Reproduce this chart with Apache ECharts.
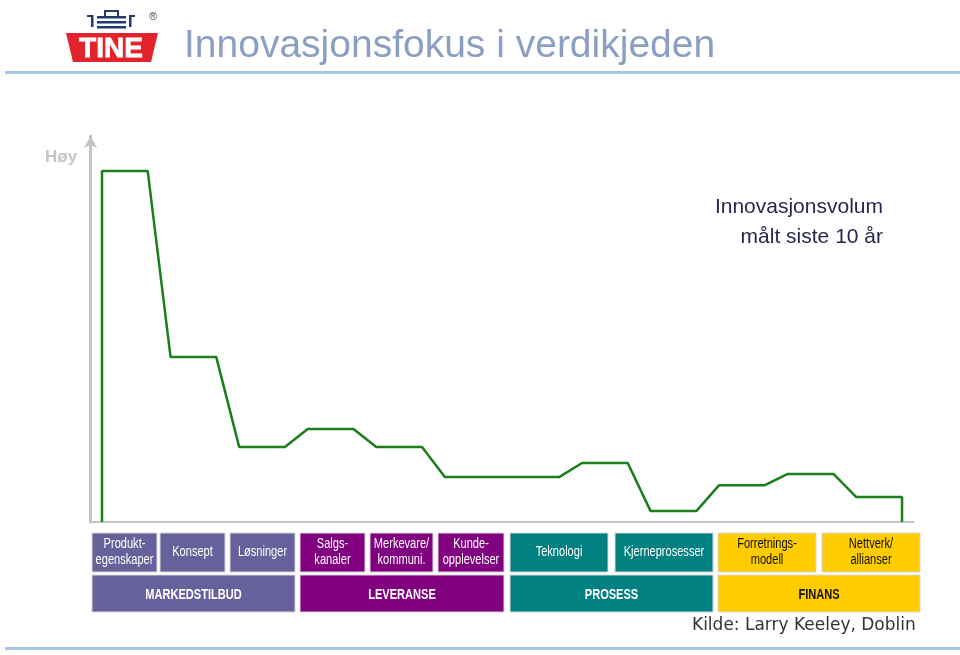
<!DOCTYPE html>
<html>
<head>
<meta charset="utf-8">
<script src="https://cdn.jsdelivr.net/npm/echarts@6/dist/echarts.min.js"></script>
<style>
html,body{margin:0;padding:0;background:#fff;}
#chart{width:960px;height:655px;}
</style>
</head>
<body>
<div id="chart"></div>
<script>
// ---- Data ----
var titleText = 'Innovasjonsfokus i verdikjeden';
var axisLabelTop = 'Høy';
var noteLines = ['Innovasjonsvolum', 'målt siste 10 år'];
// innovation volume per step (relative, 100 = highest)
var volumeValues = [100, 47, 21.4, 26.5, 21.4, 12.8, 12.8, 16.8, 3.1, 10.5, 13.7, 7.1];
var subCategories = ['Produkt-\negenskaper', 'Konsept', 'Løsninger', 'Salgs-\nkanaler', 'Merkevare/\nkommuni.', 'Kunde-\nopplevelser', 'Teknologi', 'Kjerneprosesser', 'Forretnings-\nmodell', 'Nettverk/\nallianser'];
var mainCategories = ['MARKEDSTILBUD', 'LEVERANSE', 'PROSESS', 'FINANS'];
var sourceText = 'Kilde: Larry Keeley, Doblin';

// ---- Layout / style (not data) ----
var groupColors = ['#66619b', '#800080', '#008080', '#ffcc00'];
var groupText = ['#ffffff', '#ffffff', '#ffffff', '#111111'];
var subGroup = [0, 0, 0, 1, 1, 1, 2, 2, 3, 3];
var subX = [[92,157],[160,225],[230,295],[300,365],[370,433],[438,504],[510,608],[615,713],[718,816],[822,920]];
var mainX = [[92,295],[300,504],[510,713],[718,920]];
var row1 = [533, 572], row2 = [575, 612];

// build step line: each step has a plateau 2 units wide, transitions 1 unit
var linePts = [[0, 0]];
volumeValues.forEach(function (v, i) {
  linePts.push([3 * i, v]);
  linePts.push([3 * i + 2, v]);
});
linePts.push([3 * (volumeValues.length - 1) + 2, 0]);

var font = "'Liberation Sans', Arial, sans-serif";
var graphics = [];

// title
graphics.push({type:'text', x:184, y:46, style:{text:titleText, font:"normal 39px " + font, fill:'#8a9fc2', textVerticalAlign:'middle'}});
graphics.push({type:'rect', shape:{x:5, y:71, width:955, height:3}, style:{fill:'#aac4e4'}});
graphics.push({type:'rect', shape:{x:5, y:647, width:955, height:3}, style:{fill:'#aac4e4'}});

// logo
graphics.push({type:'polygon', shape:{points:[[66,33],[158,33],[151,62],[73,62]]}, style:{fill:'#e3232b'}});
graphics.push({type:'text', x:111, y:49, style:{text:'TINE', font:"900 28px " + font, fill:'#ffffff', stroke:'#ffffff', lineWidth:0.8, textAlign:'center', textVerticalAlign:'middle'}});
var navy = '#1f3b70';
graphics.push({type:'rect', shape:{x:97, y:16, width:29, height:2.5}, style:{fill:navy}});
graphics.push({type:'rect', shape:{x:97, y:21, width:29, height:2.5}, style:{fill:navy}});
graphics.push({type:'rect', shape:{x:97, y:26, width:29, height:2.5}, style:{fill:navy}});
graphics.push({type:'rect', shape:{x:104, y:10, width:15, height:2, r:1}, style:{fill:navy}});
graphics.push({type:'rect', shape:{x:104, y:10, width:2, height:6}, style:{fill:navy}});
graphics.push({type:'rect', shape:{x:117, y:10, width:2, height:6}, style:{fill:navy}});
graphics.push({type:'rect', shape:{x:87, y:15, width:6, height:2}, style:{fill:navy}});
graphics.push({type:'rect', shape:{x:91, y:15, width:2.5, height:12}, style:{fill:navy}});
graphics.push({type:'rect', shape:{x:129, y:15, width:6, height:2}, style:{fill:navy}});
graphics.push({type:'rect', shape:{x:129, y:15, width:2.5, height:12}, style:{fill:navy}});
graphics.push({type:'text', x:153, y:17, style:{text:'®', font:"11px " + font, fill:'#444', textAlign:'center', textVerticalAlign:'middle'}});

// y axis label
graphics.push({type:'text', x:45, y:157, style:{text:axisLabelTop, font:"bold 17px " + font, fill:'#c4c4c4', textVerticalAlign:'middle'}});

// note
graphics.push({type:'text', x:883, y:207, style:{text:noteLines[0], font:"21px " + font, fill:'#27284e', textAlign:'right', textVerticalAlign:'middle'}});
graphics.push({type:'text', x:883, y:237, style:{text:noteLines[1], font:"21px " + font, fill:'#27284e', textAlign:'right', textVerticalAlign:'middle'}});

// sub-category boxes
subCategories.forEach(function (c, i) {
  var g = subGroup[i];
  var x0 = subX[i][0], x1 = subX[i][1];
  graphics.push({type:'rect', shape:{x:x0, y:row1[0], width:x1-x0, height:row1[1]-row1[0]}, style:{fill:groupColors[g], stroke:'#d8d8d8', lineWidth:1}});
  graphics.push({type:'text', x:(x0+x1)/2, y:(row1[0]+row1[1])/2, scaleX:0.79, style:{text:c, font:"14px " + font, fill:groupText[g], textAlign:'center', textVerticalAlign:'middle', lineHeight:16}});
});
mainCategories.forEach(function (c, i) {
  var x0 = mainX[i][0], x1 = mainX[i][1];
  graphics.push({type:'rect', shape:{x:x0, y:row2[0], width:x1-x0, height:row2[1]-row2[0]}, style:{fill:groupColors[i], stroke:'#d8d8d8', lineWidth:1}});
  graphics.push({type:'text', x:(x0+x1)/2, y:(row2[0]+row2[1])/2 + 2, scaleX:0.79, style:{text:c, font:"bold 14px " + font, fill:groupText[i], textAlign:'center', textVerticalAlign:'middle'}});
});

// source
graphics.push({type:'text', x:692, y:626, style:{text:sourceText, font:"17px 'DejaVu Sans', sans-serif", fill:'#333333', textVerticalAlign:'middle'}});

var chart = echarts.init(document.getElementById('chart'), null, {renderer:'canvas'});
chart.setOption({
  animation:false,
  backgroundColor:'#ffffff',
  grid:{left:90.57, width:822.9, top:136, height:386},
  xAxis:{type:'value', min:-0.5, max:35.5,
    axisLine:{show:true, onZero:false, lineStyle:{color:'#c4c4c4', width:2}},
    axisTick:{show:false}, axisLabel:{show:false}, splitLine:{show:false}},
  yAxis:{type:'value', min:0, max:110,
    axisLine:{show:true, onZero:false, symbol:['none','arrow'], symbolSize:[10,12], lineStyle:{color:'#c4c4c4', width:3}},
    axisTick:{show:false}, axisLabel:{show:false}, splitLine:{show:false}},
  series:[{type:'line', data:linePts, showSymbol:false, symbol:'none',
    lineStyle:{color:'#1a7f1a', width:2.5}, z:3}],
  graphic:graphics
});
</script>
</body>
</html>
